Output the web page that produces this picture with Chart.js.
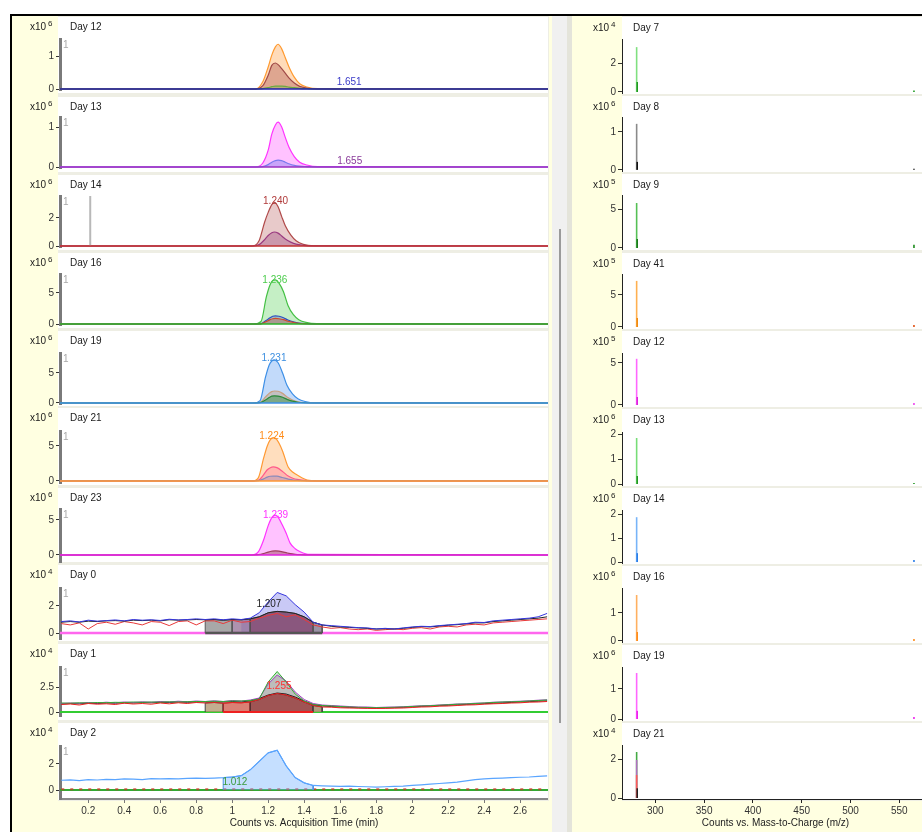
<!DOCTYPE html>
<html><head><meta charset="utf-8">
<script src="https://cdn.jsdelivr.net/npm/chart.js@4/dist/chart.umd.min.js"></script>
<style>
html,body{margin:0;padding:0}
body{width:922px;height:832px;overflow:hidden;background:#fff;position:relative;font-family:"Liberation Sans",Arial,sans-serif}
.bg{position:absolute}
canvas{position:absolute}
</style></head><body>
<div class="bg" style="left:10px;top:14px;width:912px;height:2px;background:#000"></div>
<div class="bg" style="left:10px;top:14px;width:2px;height:818px;background:#000"></div>
<div class="bg" style="left:12px;top:16px;width:540px;height:816px;background:#ffffe1"></div>
<div class="bg" style="left:58px;top:16px;width:491px;height:785px;background:#eeeee4"></div>
<div class="bg" style="left:552px;top:16px;width:15px;height:816px;background:#f0f0f0"></div>
<div class="bg" style="left:567px;top:16px;width:5px;height:816px;background:#e4e4da"></div>
<div class="bg" style="left:559px;top:229px;width:2px;height:494px;background:#9a9a9a"></div>
<div class="bg" style="left:572px;top:16px;width:350px;height:816px;background:#ffffe1"></div>
<div class="bg" style="left:622px;top:16px;width:300px;height:785px;background:#eeeee4"></div>
<div id="panels"></div>
<script>
// ---------------- DATA ----------------
const leftDays  = ['Day 12','Day 13','Day 14','Day 16','Day 19','Day 21','Day 23','Day 0','Day 1','Day 2'];
const leftExp   = ['6','6','6','6','6','6','6','4','4','4'];
const leftYTicks = [[0,1],[0,1],[0,2],[0,5],[0,5],[0,5],[0,5],[0,2],[0,2.5],[0,2]];
const timeTicks = [0.2,0.4,0.6,0.8,1,1.2,1.4,1.6,1.8,2,2.2,2.4,2.6];

const rightDays = ['Day 7','Day 8','Day 9','Day 41','Day 12','Day 13','Day 14','Day 16','Day 19','Day 21'];
const rightExp  = ['4','6','5','5','5','6','6','6','6','4'];
const rightYTicks = [[0,2],[0,1],[0,5],[0,5],[0,5],[0,1,2],[0,1,2],[0,1],[0,1],[0,2]];
const mzTicks = [300,350,400,450,500,550];

// peak annotations (left panels)
const peakText  = ['1.651','1.655','1.240','1.236','1.231','1.224','1.239','1.207','1.255','1.012'];
const peakTime  = [1.65,1.653,1.241,1.237,1.232,1.22,1.241,1.204,1.26,1.015];
const peakLevel = [0.22,0.15,3.21,7.1,7.5,6.43,5.71,2.15,2.53,0.56];

// flat zero trace
const tBase = [0.043, 2.755];
const vBase = [0, 0];

// Day 12 / Day 13
const tD12 = [0.043,1.13,1.17,1.20,1.22,1.24,1.255,1.275,1.295,1.315,1.345,1.375,1.415,1.475,2.755];
const d12Orange = [0,0,0.22,0.67,1.03,1.28,1.36,1.22,0.95,0.68,0.36,0.16,0.06,0.01,0];
const d12Brown  = [0,0,0.1,0.42,0.72,0.79,0.74,0.62,0.48,0.34,0.18,0.08,0.03,0,0];
const d12Green  = [0,0,0.01,0.04,0.07,0.09,0.09,0.09,0.08,0.06,0.04,0.02,0.01,0,0];
const d13Magenta = [0,0,0.1,0.42,0.82,1.05,1.12,1.0,0.74,0.5,0.26,0.12,0.05,0.01,0];
const d13Blue    = [0,0,0.01,0.06,0.12,0.16,0.17,0.16,0.12,0.08,0.04,0.02,0.01,0,0];
// Day 14
const tD14 = [0.043,1.11,1.15,1.18,1.20,1.22,1.235,1.255,1.275,1.295,1.325,1.355,1.395,1.455,2.755];
const d14Brown  = [0,0,0.4,1.7,2.4,2.95,3.12,2.8,2.1,1.45,0.8,0.38,0.12,0.02,0];
const d14Purple = [0,0,0.1,0.45,0.75,0.95,1.0,0.92,0.72,0.5,0.28,0.13,0.05,0.01,0];
const tD14Mark = [0.211, 0.211];
const vD14Mark = [0, 3.57];
// Day 16
const tD16 = [0.043,1.12,1.16,1.19,1.21,1.225,1.24,1.26,1.285,1.31,1.34,1.37,1.41,1.47,2.755];
const d16Green = [0,0,0.4,4.4,6.3,7.0,7.1,6.6,5.2,3.0,1.5,0.7,0.25,0.05,0];
const d16Blue  = [0,0,0.05,0.6,1.0,1.25,1.3,1.25,1.0,0.65,0.35,0.15,0.05,0,0];
const d16Red   = [0,0,0.03,0.4,0.7,0.85,0.9,0.85,0.7,0.45,0.25,0.1,0.04,0,0];
// Day 19
const tD19 = [0.043,1.115,1.155,1.185,1.205,1.22,1.235,1.255,1.28,1.305,1.335,1.365,1.405,1.465,2.755];
const d19Blue  = [0,0,0.4,4.3,6.3,7.0,7.2,6.7,5.0,2.9,1.5,0.7,0.25,0.05,0];
const d19Tan   = [0,0,0.1,1.0,1.6,1.9,2.0,1.95,1.6,1.0,0.5,0.2,0.07,0.01,0];
const d19Green = [0,0,0.05,0.5,0.9,1.15,1.2,1.15,0.95,0.6,0.3,0.12,0.04,0,0];
// Day 21
const tD21 = [0.043,1.11,1.145,1.175,1.195,1.212,1.228,1.248,1.278,1.311,1.34,1.361,1.417,1.47,2.755];
const d21Orange = [0,0,0.45,3.3,5.0,5.9,6.2,5.9,4.4,2.0,1.2,0.86,0.14,0.02,0];
const d21Pink   = [0,0,0.1,0.9,1.6,1.9,2.0,1.9,1.4,0.7,0.35,0.22,0.04,0,0];
const d21Slate  = [0,0,0.05,0.3,0.55,0.67,0.7,0.68,0.5,0.27,0.13,0.08,0.02,0,0];
// Day 23
const tD23 = [0.043,1.11,1.146,1.174,1.2,1.222,1.24,1.26,1.28,1.3,1.322,1.35,1.378,1.43,2.755];
const d23Magenta = [0,0,0.47,2.1,4.2,5.4,5.7,5.2,4.2,3.1,1.7,0.9,0.47,0.08,0];
const d23Brown   = [0,0,0.05,0.2,0.42,0.55,0.6,0.56,0.45,0.33,0.2,0.1,0.05,0.01,0];

// noisy traces (Day 0, Day 1, Day 2)
const tN = [0.05,0.1,0.15,0.2,0.25,0.3,0.35,0.4,0.45,0.5,
            0.55,0.6,0.65,0.7,0.75,0.8,0.85,0.9,0.95,1,
            1.05,1.1,1.15,1.2,1.25,1.3,1.35,1.4,1.45,1.5,
            1.55,1.6,1.65,1.7,1.75,1.8,1.85,1.9,1.95,2,
            2.05,2.1,2.15,2.2,2.25,2.3,2.35,2.4,2.45,2.5,
            2.55,2.6,2.65,2.7,2.75];
const d0Blue = [0.85,0.9,0.82,0.95,0.88,0.92,0.97,0.9,1.0,0.95,
                0.98,0.93,1.02,0.97,1.0,1.05,1.0,1.05,0.98,1.05,
                1.0,1.1,1.5,2.3,3.0,2.75,2.1,1.55,0.8,0.6,
                0.55,0.5,0.45,0.4,0.38,0.3,0.35,0.3,0.38,0.45,
                0.5,0.48,0.55,0.6,0.65,0.7,0.8,0.78,0.9,0.95,
                1.0,1.05,1.1,1.2,1.45];
const d0Black = [0.8,0.85,0.8,0.88,0.85,0.9,0.92,0.88,0.95,0.92,
                 0.95,0.9,0.98,0.95,0.97,1.0,0.98,1.0,0.95,1.0,
                 0.98,1.05,1.2,1.5,1.6,1.55,1.45,1.2,0.8,0.6,
                 0.5,0.45,0.42,0.38,0.35,0.3,0.32,0.3,0.35,0.42,
                 0.48,0.45,0.52,0.58,0.62,0.68,0.75,0.75,0.85,0.9,
                 0.95,1.0,1.05,1.1,1.2];
const d0Red = [0.7,0.6,0.75,0.3,0.7,0.8,0.65,0.85,0.75,0.6,
               0.85,0.8,0.55,0.85,0.9,0.6,0.9,0.9,0.7,0.95,
               0.8,0.85,1.1,1.3,1.45,1.2,1.35,1.0,0.6,0.45,
               0.35,0.4,0.3,0.25,0.3,0.2,0.25,0.3,0.25,0.35,
               0.4,0.3,0.45,0.5,0.45,0.6,0.65,0.6,0.75,0.8,
               0.85,0.9,0.95,1.0,1.05];
const tD0Box = [0.85, 1.5];
const vD0Box = [0, 0];
const d1Green = [0.9,0.88,0.92,0.9,0.95,0.93,0.97,0.95,1.0,0.97,
                 1.0,0.98,1.02,1.0,1.03,1.05,1.05,1.08,1.05,1.1,
                 1.1,1.15,1.3,3.0,4.05,3.0,1.8,1.1,0.75,0.65,
                 0.6,0.55,0.5,0.47,0.45,0.43,0.45,0.47,0.5,0.55,
                 0.6,0.62,0.68,0.72,0.78,0.8,0.85,0.9,0.95,1.0,
                 1.02,1.05,1.1,1.15,1.2];
const d1Purple = [0.85,0.9,0.88,0.95,0.9,0.98,0.92,1.0,0.95,1.02,
                  0.97,1.05,1.0,1.08,1.02,1.1,1.05,1.12,1.05,1.15,
                  1.1,1.2,1.4,2.8,3.7,3.1,2.0,1.25,0.85,0.7,
                  0.65,0.6,0.55,0.5,0.5,0.45,0.48,0.5,0.52,0.58,
                  0.62,0.65,0.7,0.75,0.8,0.82,0.88,0.9,0.98,1.0,
                  1.05,1.08,1.12,1.18,1.22];
const d1Black = [0.8,0.85,0.82,0.88,0.85,0.9,0.88,0.92,0.9,0.95,
                 0.92,0.97,0.95,1.0,0.97,1.0,1.0,1.02,1.0,1.05,
                 1.02,1.1,1.35,1.7,1.9,1.8,1.5,1.1,0.75,0.6,
                 0.55,0.5,0.47,0.43,0.42,0.4,0.42,0.44,0.47,0.52,
                 0.56,0.6,0.64,0.68,0.72,0.76,0.8,0.84,0.88,0.92,
                 0.96,1.0,1.04,1.08,1.12];
const d1Red = [0.75,0.8,0.7,0.85,0.78,0.82,0.75,0.88,0.8,0.85,
               0.78,0.9,0.82,0.92,0.85,0.95,0.9,0.95,0.88,0.95,
               0.92,1.0,1.25,1.65,1.85,1.7,1.4,1.0,0.65,0.5,
               0.48,0.42,0.4,0.38,0.36,0.35,0.36,0.38,0.4,0.45,
               0.5,0.52,0.58,0.6,0.65,0.7,0.72,0.78,0.82,0.85,
               0.9,0.92,0.98,1.0,1.05];
const tD1Box = [0.95, 1.45];
const vD1Box = [0, 0];
const d2Blue = [0.75,0.78,0.72,0.8,0.77,0.82,0.8,0.85,0.83,0.8,
                0.87,0.85,0.88,0.86,0.9,0.92,0.9,0.92,0.95,1.0,
                1.1,1.55,2.2,2.85,3.05,1.85,0.95,0.55,0.35,0.32,
                0.3,0.28,0.3,0.27,0.25,0.22,0.25,0.28,0.3,0.35,
                0.4,0.45,0.5,0.55,0.6,0.7,0.8,0.85,0.9,0.92,
                0.95,0.98,1.0,1.05,1.08];
const tD2Dash = [0.05, 2.75];
const vD2Dash = [0.05, 0.05];

// spectra sticks (right panels): m/z and heights
const r7Mz  = [280.9,281.5,565.0];  const r7H  = [3.1,0.69,0.1];
const r8Mz  = [280.9,281.5,565.0];  const r8H  = [1.21,0.21,0.03];
const r9Mz  = [280.9,281.5,565.0];  const r9H  = [5.77,1.15,0.4];
const r41Mz = [280.9,281.5,565.0];  const r41H = [7.2,1.4,0.3];
const r12Mz = [280.9,281.5,565.0];  const r12H = [5.5,0.95,0.25];
const r13Mz = [280.9,281.5,565.0];  const r13H = [1.84,0.32,0.04];
const r14Mz = [280.9,281.5,565.0];  const r14H = [1.87,0.37,0.08];
const r16Mz = [280.9,281.5,565.0];  const r16H = [1.64,0.32,0.07];
const r19Mz = [280.9,281.5,565.0];  const r19H = [1.53,0.27,0.07];
const r21Mz = [280.9,280.9,280.9,281.5]; const r21H = [2.36,1.95,1.18,0.5];

// ---------------- LAYOUT / STYLE ----------------
const FONT = '"Liberation Sans", Arial, sans-serif';
Chart.defaults.font.family = FONT;
Chart.defaults.font.size = 10;
Chart.defaults.color = '#333';

const leftLayout = [
 {top:17,bottom:93,aTop:39,aBot:90,min:-0.03,max:1.52},
 {top:97,bottom:172,aTop:117,aBot:168,min:-0.025,max:1.25},
 {top:175,bottom:250,aTop:196,aBot:247,min:-0.07,max:3.57},
 {top:253,bottom:328,aTop:274,aBot:325,min:-0.16,max:8.06},
 {top:331,bottom:406,aTop:353,aBot:404,min:-0.17,max:8.33},
 {top:408,bottom:485,aTop:431,aBot:483,min:-0.29,max:7.14},
 {top:488,bottom:562,aTop:509,aBot:562,min:-1.0,max:6.57},
 {top:565,bottom:641,aTop:588,aBot:639,min:-0.44,max:3.33},
 {top:644,bottom:720,aTop:667,aBot:716,min:-0.4,max:4.5},
 {top:723,bottom:800,aTop:746,aBot:799,min:-0.69,max:3.38}
];
const rightLayout = [
 {top:17,bottom:94,aTop:39,aBot:93,min:-0.07,max:3.66},
 {top:96,bottom:172,aTop:117,aBot:171,min:-0.03,max:1.39},
 {top:174,bottom:250,aTop:195,aBot:249,min:-0.13,max:6.8},
 {top:253,bottom:329,aTop:274,aBot:328,min:-0.16,max:8.28},
 {top:331,bottom:407,aTop:353,aBot:406,min:-0.12,max:6.19},
 {top:409,bottom:486,aTop:432,aBot:485,min:-0.04,max:2.08},
 {top:488,bottom:564,aTop:510,aBot:563,min:-0.04,max:2.17},
 {top:566,bottom:643,aTop:588,aBot:642,min:-0.036,max:1.89},
 {top:645,bottom:721,aTop:667,aBot:720,min:-0.033,max:1.73},
 {top:723,bottom:800,aTop:745,aBot:799,min:-0.05,max:2.72}
];
const peakColor = ['#3a3ac8','#8a3c9a','#b03a3a','#4ccc4c','#3d8fe0','#ff8c1a','#ff33ff','#222222','#ff3030','#3a9a3a'];

function pts(t, v) { return t.map((x, i) => ({x: x, y: v[i]})); }
function region(t, v, a, b) {
  const p = [{x: a, y: 0}];
  t.forEach((x, i) => { if (x >= a - 1e-9 && x <= b + 1e-9) p.push({x: x, y: v[i]}); });
  p.push({x: b, y: 0});
  return p;
}
function S(data, color, bg, w, extra) { return Object.assign({data, color, bg, w}, extra || {}); }

const leftSeries = [
  [ S(pts(tD12,d12Orange),'#ff9a30','rgba(255,160,70,0.38)',1.2,{sm:1}),
    S(pts(tD12,d12Brown),'#a04a48','rgba(160,70,70,0.35)',1.2,{sm:1}),
    S(pts(tD12,d12Green),'#6aaa40','rgba(110,180,80,0.35)',1.2,{sm:1}),
    S(pts(tBase,vBase),'#1c1ca8',null,1.5) ],
  [ S(pts(tD12,d13Magenta),'#ff33ff','rgba(255,80,255,0.35)',1.2,{sm:1}),
    S(pts(tD12,d13Blue),'#7a7aee','rgba(120,120,240,0.4)',1.2,{sm:1}),
    S(pts(tBase,vBase),'#9b30c0',null,1.5) ],
  [ S(pts(tD14,d14Brown),'#b04a4a','rgba(180,80,80,0.3)',1.2,{sm:1}),
    S(pts(tD14,d14Purple),'#9a3a80','rgba(150,60,120,0.35)',1.2,{sm:1}),
    S(pts(tD14Mark,vD14Mark),'#b8b8b8',null,2),
    S(pts(tBase,vBase),'#c03030',null,1.5) ],
  [ S(pts(tD16,d16Green),'#44c044','rgba(90,210,90,0.35)',1.2,{sm:1}),
    S(pts(tD16,d16Blue),'#3050c0','rgba(60,80,200,0.3)',1.2,{sm:1}),
    S(pts(tD16,d16Red),'#d04a2a','rgba(200,80,50,0.35)',1.2,{sm:1}),
    S(pts(tBase,vBase),'#2ab02a',null,1.5) ],
  [ S(pts(tD19,d19Blue),'#3d8fe6','rgba(80,150,240,0.35)',1.2,{sm:1}),
    S(pts(tD19,d19Tan),'#c8a080','rgba(200,150,110,0.4)',1.2,{sm:1}),
    S(pts(tD19,d19Green),'#2a8a3a','rgba(40,140,60,0.45)',1.2,{sm:1}),
    S(pts(tBase,vBase),'#3d8fe6',null,1.5) ],
  [ S(pts(tD21,d21Orange),'#ff9933','rgba(255,160,70,0.35)',1.2,{sm:1}),
    S(pts(tD21,d21Pink),'#ff5a8a','rgba(255,90,140,0.3)',1.2,{sm:1}),
    S(pts(tD21,d21Slate),'#8a8aba','rgba(140,140,190,0.35)',1.2,{sm:1}),
    S(pts(tBase,vBase),'#ff9933',null,1.5) ],
  [ S(pts(tD23,d23Magenta),'#ff33ff','rgba(255,80,255,0.35)',1.2,{sm:1}),
    S(pts(tD23,d23Brown),'#a04060','rgba(150,60,80,0.45)',1.2,{sm:1}),
    S(pts(tBase,vBase),'#e020e0',null,1.5) ],
  [ S(pts(tBase,vBase),'#ff66ee',null,2.5),
    S(region(tN,d0Blue,1.05,1.5),'rgba(0,0,0,0)','rgba(100,100,230,0.35)',0),
    S(region(tN,d0Black,0.85,1.0),'#555','rgba(110,110,110,0.6)',1),
    S(region(tN,d0Black,1.0,1.1),'#555','rgba(140,100,140,0.7)',1),
    S(region(tN,d0Black,1.1,1.45),'#555','rgba(115,45,80,0.72)',1),
    S(region(tN,d0Black,1.45,1.5),'#555','rgba(120,110,110,0.6)',1),
    S(pts(tD0Box,vD0Box),'#555',null,2.5),
    S(pts(tN,d0Red),'#e83838',null,1),
    S(pts(tN,d0Black),'#222',null,1),
    S(pts(tN,d0Blue),'#3535dd',null,1) ],
  [ S(pts(tBase,vBase),'#33cc33',null,2),
    S(region(tN,d1Green,1.1,1.5),'rgba(0,0,0,0)','rgba(110,200,110,0.4)',0),
    S(region(tN,d1Purple,1.1,1.5),'rgba(0,0,0,0)','rgba(170,90,170,0.3)',0),
    S(region(tN,d1Red,0.85,0.95),'#444','rgba(175,145,105,0.75)',1),
    S(region(tN,d1Red,0.95,1.1),'#aa2020','rgba(205,85,70,0.75)',1),
    S(region(tN,d1Red,1.1,1.45),'#333','rgba(150,50,50,0.75)',1),
    S(region(tN,d1Red,1.45,1.5),'#444','rgba(175,145,105,0.75)',1),
    S(pts(tD1Box,vD1Box),'#ee2020',null,2),
    S(pts(tN,d1Black),'#222',null,1),
    S(pts(tN,d1Purple),'#a040c0',null,1),
    S(pts(tN,d1Green),'#33aa33',null,1),
    S(pts(tN,d1Red),'#ee2020',null,1) ],
  [ S(pts(tBase,vBase),'#33aa33',null,2),
    S(pts(tD2Dash,vD2Dash),'rgba(200,60,40,0.8)',null,2,{dash:[3,6]}),
    S(region(tN,d2Blue,0.95,1.45),'#4a90e8','rgba(110,175,255,0.4)',1),
    S(pts(tN,d2Blue),'#5aa5ff',null,1.2) ]
];

const rightSticks = [
  [r7Mz,r7H,['#80e080','#209a20','#209a20']],
  [r8Mz,r8H,['#8a8a8a','#111111','#111111']],
  [r9Mz,r9H,['#55c055','#1a7a1a','#1a8a1a']],
  [r41Mz,r41H,['#ffb050','#f08a10','#e05010']],
  [r12Mz,r12H,['#ff66ff','#dd22dd','#ee44ee']],
  [r13Mz,r13H,['#77dd77','#229922','#229922']],
  [r14Mz,r14H,['#77b4f8','#2a7ee8','#2a7ee8']],
  [r16Mz,r16H,['#ffb060','#ff8c1a','#ff8c1a']],
  [r19Mz,r19H,['#ff66ff','#ee22ee','#ee22ee']],
  [r21Mz,r21H,['#44aa44','#b070c0','#ff5a5a','#222222']]
];

const panelText = {
  id: 'panelText',
  afterDraw(chart, args, o) {
    const c = chart.ctx, ca = chart.chartArea;
    c.save();
    c.textBaseline = 'middle';
    c.fillStyle = '#1a1a1a';
    c.font = '10px ' + FONT;
    c.textAlign = 'left';
    c.fillText(o.title, o.titleX, o.titleY);
    c.textAlign = 'right';
    c.fillText('x10', o.expX, o.titleY);
    c.textAlign = 'left';
    c.font = '8px ' + FONT;
    c.fillText(o.exp, o.expX + 2, o.titleY - 3);
    if (o.one) {
      c.font = '10px ' + FONT; c.fillStyle = '#a8a8a8';
      c.fillText('1', ca.left + 3, ca.top + 6);
    }
    if (o.peakText) {
      c.font = '10px ' + FONT; c.fillStyle = o.peakColor; c.textAlign = 'center';
      c.fillText(o.peakText, chart.scales.x.getPixelForValue(o.peakT), chart.scales.y.getPixelForValue(o.peakV));
    }
    c.restore();
  }
};

function toDataset(s) {
  return {
    data: s.data, borderColor: s.color,
    backgroundColor: s.bg || 'rgba(0,0,0,0)',
    fill: s.bg ? 'origin' : false,
    borderWidth: s.w, pointRadius: 0, borderDash: s.dash || [],
    cubicInterpolationMode: s.sm ? 'monotone' : 'default', tension: 0
  };
}

function makeChart(side, i, L, datasets) {
  const isBottom = i === 9;
  const left = side === 'L' ? 12 : 572;
  const width = side === 'L' ? 536 : 357;
  const height = isBottom ? 832 - L.top : (L.bottom - L.top + 12);
  const cv = document.createElement('canvas');
  cv.width = width; cv.height = height;
  cv.style.left = left + 'px'; cv.style.top = L.top + 'px';
  cv.style.width = width + 'px'; cv.style.height = height + 'px';
  document.getElementById('panels').appendChild(cv);
  const yTicks = side === 'L' ? leftYTicks[i] : rightYTicks[i];
  const xTicks = side === 'L' ? timeTicks : mzTicks;
  const axisCol = side === 'L' ? '#7a7a7a' : '#222';
  new Chart(cv, {
    type: 'line',
    data: { datasets: datasets },
    plugins: [panelText],
    options: {
      responsive: false, animation: false, devicePixelRatio: 1,
      events: [],
      layout: { padding: { top: L.aTop - L.top, bottom: isBottom ? 0 : height - (L.aBot - L.top), left: 0, right: 0 } },
      plugins: {
        legend: { display: false }, tooltip: { enabled: false },
        panelText: side === 'L' ? {
          title: leftDays[i], titleX: 58, titleY: 10, exp: leftExp[i], expX: 34, one: true,
          peakText: peakText[i], peakT: peakTime[i], peakV: peakLevel[i], peakColor: peakColor[i]
        } : {
          title: rightDays[i], titleX: 61, titleY: 11, exp: rightExp[i], expX: 37, one: false
        }
      },
      scales: {
        x: {
          type: 'linear',
          min: side === 'L' ? 0.043 : 265.9,
          max: side === 'L' ? 2.755 : 580.4,
          display: isBottom,
          afterBuildTicks: s => { s.ticks = xTicks.map(v => ({value: v})); },
          afterFit: s => { s.height = isBottom ? 33 : 0; },
          ticks: { color: '#333', font: { size: 10 }, padding: 2, maxRotation: 0, autoSkip: false, callback: v => String(v) },
          grid: { drawOnChartArea: false, drawTicks: true, tickLength: 4, color: side === 'L' ? '#777' : '#222' },
          border: { display: true, color: side === 'L' ? '#888' : '#222', width: side === 'L' ? 2 : 1 },
          title: { display: isBottom, text: side === 'L' ? 'Counts vs. Acquisition Time (min)' : 'Counts vs. Mass-to-Charge (m/z)',
                   color: '#222', font: { size: 10 }, padding: { top: 0, bottom: 3 } }
        },
        y: {
          type: 'linear', min: L.min, max: L.max,
          afterBuildTicks: s => { s.ticks = yTicks.map(v => ({value: v})); },
          afterFit: s => { s.width = side === 'L' ? 48 : 50; },
          ticks: { color: '#333', font: { size: 10 }, padding: 2, callback: v => String(v) },
          grid: { drawOnChartArea: false, drawTicks: true, tickLength: 4, color: '#333' },
          border: { display: true, color: axisCol, width: side === 'L' ? 3 : 1 }
        }
      }
    }
  });
}

function addWhite(left, width, L) {
  const d = document.createElement('div');
  d.className = 'bg';
  d.style.cssText = 'left:' + left + 'px;top:' + L.top + 'px;width:' + width + 'px;height:' + (L.bottom - L.top) + 'px;background:#fff';
  document.getElementById('panels').appendChild(d);
}
leftLayout.forEach(L => addWhite(58, 490, L));
rightLayout.forEach(L => addWhite(622, 300, L));

leftLayout.forEach((L, i) => {
  const ds = leftSeries[i].map(toDataset).reverse();
  makeChart('L', i, L, ds);
});
rightLayout.forEach((L, i) => {
  const [mz, h, cols] = rightSticks[i];
  const ds = mz.map((m, k) => ({
    data: [{x: m, y: 0}, {x: m, y: h[k]}], borderColor: cols[k], borderWidth: 1.6,
    pointRadius: 0, fill: false, tension: 0
  })).reverse();
  makeChart('R', i, L, ds);
});
</script>
</body></html>
